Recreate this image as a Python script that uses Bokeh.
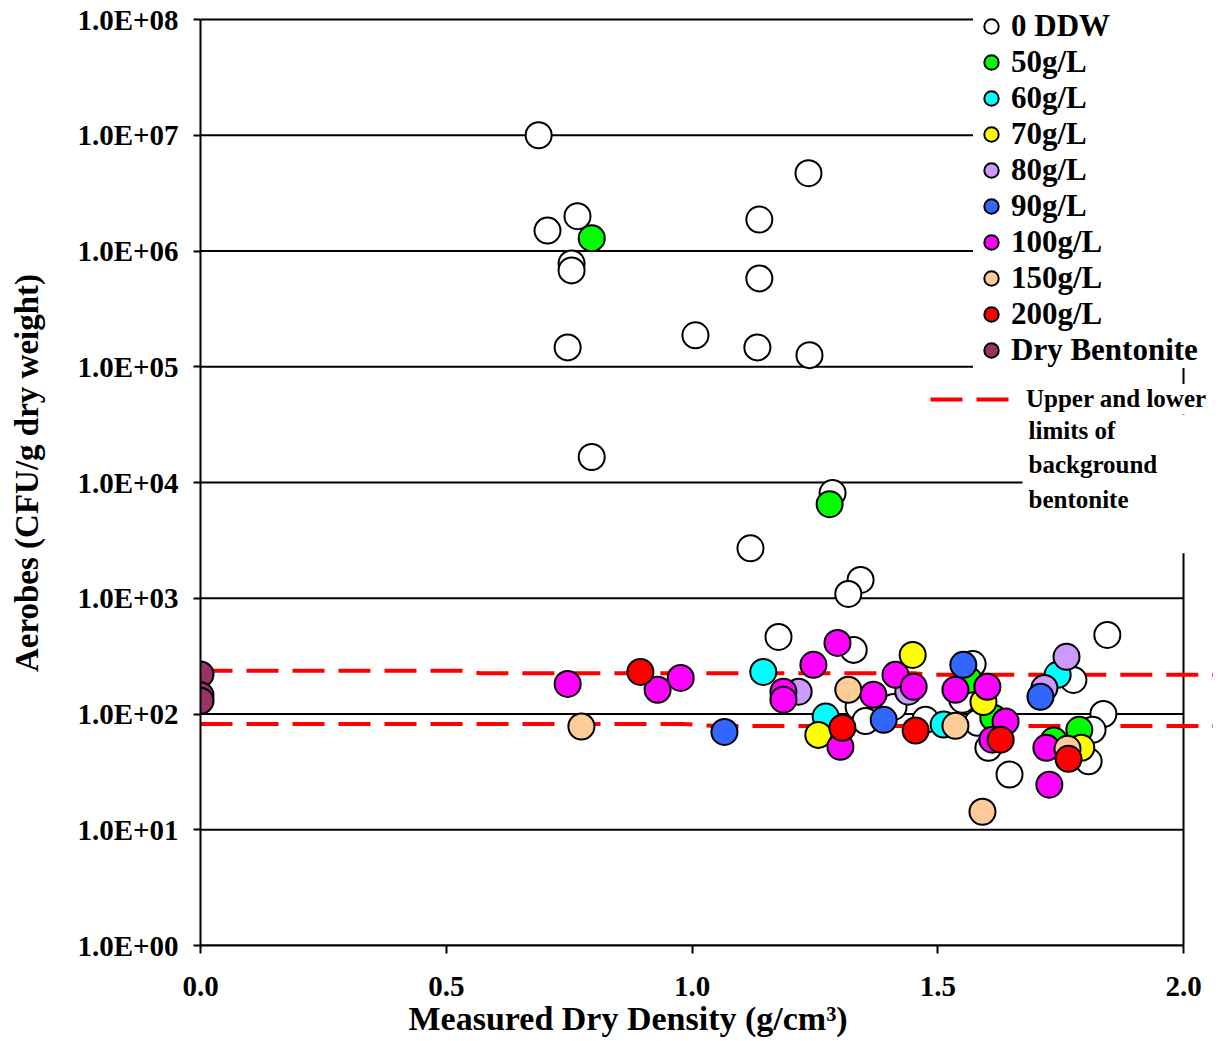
from bokeh.plotting import figure
from bokeh.models import (Legend, LegendItem, Label, FixedTicker, CustomJSTickFormatter,
                          PrintfTickFormatter, Range1d, Title)
from bokeh.embed import file_html
from bokeh.resources import INLINE
import math

FONT = "Liberation Serif"

# ---------------- data ----------------
ddw_x = [0.688, 1.237, 0.767, 0.706, 1.137, 0.755, 0.755, 1.137, 1.007, 0.747, 1.133, 1.239,
         0.796, 1.286, 1.119, 1.343, 1.318, 1.176, 1.845, 1.329, 1.776, 1.837, 1.646, 1.807,
         1.339, 1.353, 1.410, 1.475, 1.550, 1.581, 1.603, 1.815, 1.571]
ddw_y = [1.0e7, 4.7e6, 2.0e6, 1.5e6, 1.87e6, 7.8e5, 6.8e5, 5.8e5, 1.87e5, 1.47e5, 1.47e5, 1.26e5,
         1.66e4, 8.1e3, 2.7e3, 1.44e3, 1.09e3, 463, 482, 358, 197, 100, 30, 39,
         115, 87, 115, 89, 133, 84, 51, 73, 270]

g50_x = [0.796, 1.280, 1.563, 1.613, 1.736, 1.788]
g50_y = [1.29e6, 6.5e3, 197, 93, 59, 73]

g60_x = [1.145, 1.272, 1.512, 1.744]
g60_y = [231, 95, 81, 218]

g70_x = [1.257, 1.449, 1.593, 1.792]
g70_y = [66, 324, 127, 51]

g80_x = [1.217, 1.440, 1.762, 1.717]
g80_y = [156, 156, 312, 168]

g90_x = [1.066, 1.390, 1.552, 1.709]
g90_y = [70, 89, 266, 141]

g100_x = [0.747, 0.930, 0.977, 1.186, 1.186, 1.247, 1.296, 1.302, 1.369, 1.414, 1.451,
          1.536, 1.601, 1.638, 1.611, 1.721, 1.727]
g100_y = [182, 162, 205, 156, 133, 266, 411, 52, 147, 218, 172,
          162, 172, 86, 60, 51, 24.5]

g150_x = [0.775, 1.318, 1.536, 1.591, 1.764]
g150_y = [78, 162, 79, 14.3, 50]

g200_x = [0.895, 1.306, 1.455, 1.628, 1.766]
g200_y = [231, 76, 72, 60, 41]

dry_x = [0.0, 0.0, 0.0]
dry_y = [220, 145, 130]

upper_x = [0.0, 0.53, 0.57, 1.45, 1.49, 2.06]
upper_y = [236, 236, 225, 225, 218, 218]
lower_x = [0.0, 0.98, 1.05, 2.06]
lower_y = [82, 82, 78.6, 78.6]

x_ticks = [0.0, 0.5, 1.0, 1.5, 2.0]
y_ticks = [1, 10, 100, 1000, 10000, 100000, 1000000, 10000000, 100000000]

series = [
    ("0 DDW", ddw_x, ddw_y, "#FFFFFF"),
    ("50g/L", g50_x, g50_y, "#00FF00"),
    ("60g/L", g60_x, g60_y, "#00FFFF"),
    ("70g/L", g70_x, g70_y, "#FFFF00"),
    ("80g/L", g80_x, g80_y, "#CC99FF"),
    ("90g/L", g90_x, g90_y, "#3366FF"),
    ("100g/L", g100_x, g100_y, "#FF00FF"),
    ("150g/L", g150_x, g150_y, "#FFCC99"),
    ("200g/L", g200_x, g200_y, "#FF0000"),
    ("Dry Bentonite", dry_x, dry_y, "#993366"),
]

# ---------------- layout (pixels) ----------------
W, H = 1228, 1040
FRAME_L, FRAME_B = 200, 945          # frame extends to the right and top edge of canvas
AX_X1 = 1183                         # where x = 2 falls
AX_YTOP = 19                         # where y = 1e8 falls
px_per_x = (AX_X1 - FRAME_L) / (x_ticks[-1] - x_ticks[0])
px_per_dec = (FRAME_B - AX_YTOP) / math.log10(y_ticks[-1] / y_ticks[0])
x_end = x_ticks[-1] + (W - AX_X1) / px_per_x
y_end = y_ticks[-1] * 10 ** (AX_YTOP / px_per_dec)

p = figure(width=W, height=H, x_range=Range1d(x_ticks[0], x_end), y_range=Range1d(y_ticks[0], y_end),
           y_axis_type="log", output_backend="svg", toolbar_location=None,
           min_border_left=FRAME_L, min_border_right=0, min_border_top=0,
           min_border_bottom=H - FRAME_B)
p.outline_line_color = None
p.background_fill_color = "white"
p.xgrid.visible = False
p.ygrid.visible = False

p.xaxis.ticker = FixedTicker(ticks=x_ticks)
p.xaxis.formatter = PrintfTickFormatter(format="%.1f")
p.xaxis.bounds = (x_ticks[0], x_ticks[-1])
p.yaxis.ticker = FixedTicker(ticks=y_ticks)
p.yaxis.formatter = CustomJSTickFormatter(
    code="var s = tick.toExponential(1).toUpperCase(); return s.replace(/E([+-])(\\d)$/, 'E$10$2');")
p.yaxis.bounds = (y_ticks[0], y_ticks[-1])

for ax in (p.xaxis[0], p.yaxis[0]):
    ax.axis_line_color = "black"
    ax.axis_line_width = 2
    ax.major_tick_line_color = "black"
    ax.major_tick_line_width = 2
    ax.major_tick_in = 0
    ax.major_tick_out = 8
    ax.minor_tick_line_color = None
    ax.major_label_text_font = FONT
    ax.major_label_text_font_style = "bold"
    ax.major_label_text_color = "black"
    ax.axis_label_text_font = FONT
    ax.axis_label_text_font_style = "bold"
    ax.axis_label_text_color = "black"

p.yaxis.major_tick_out = 7
p.yaxis.major_label_text_font_size = "29px"
p.yaxis.major_label_standoff = 15
p.yaxis.axis_label = "Aerobes (CFU/g dry weight)"
p.yaxis.axis_label_text_font_size = "33px"
p.yaxis.axis_label_standoff = 29

p.xaxis.major_label_text_font_size = "29px"
p.xaxis.major_label_standoff = 23

# x-axis title, set slightly left of centre as in the original
xt = Title(text="Measured Dry Density (g/cm\u00b3)", align="left", offset=208, standoff=2,
           vertical_align="top", text_font=FONT, text_font_size="34px",
           text_font_style="bold", text_color="black")
p.add_layout(xt, "below")

# horizontal gridlines at the decade ticks, limited to the axis extent, and right border
p.segment(x0=[x_ticks[0]] * len(y_ticks), x1=[x_ticks[-1]] * len(y_ticks), y0=y_ticks, y1=y_ticks,
          line_color="black", line_width=2)
p.segment(x0=[x_ticks[-1]], x1=[x_ticks[-1]], y0=[y_ticks[0]], y1=[y_ticks[-1]],
          line_color="black", line_width=2)

# background limits lines
lim_up = p.line(upper_x, upper_y, line_color="#FF0000", line_width=4, line_dash="32 14")
p.line(lower_x, lower_y, line_color="#FF0000", line_width=4, line_dash="32 14")

renderers = []
for name, xs, ys, col in series:
    r = p.scatter(xs, ys, size=26, fill_color=col, line_color="black", line_width=2)
    renderers.append((name, r))

leg = Legend(items=[LegendItem(label=n, renderers=[r]) for n, r in renderers],
             location=(973 - FRAME_L, FRAME_B - 368), glyph_width=36, glyph_height=36, spacing=0,
             label_standoff=2, padding=4, margin=0, label_height=36,
             label_text_font=FONT, label_text_font_size="31px", label_text_font_style="bold",
             label_text_color="black",
             border_line_color=None, background_fill_color="white", background_fill_alpha=1.0)
p.add_layout(leg)

leg2 = Legend(items=[LegendItem(label="Upper and lower", renderers=[lim_up])],
              location=(930 - FRAME_L, FRAME_B - 414), glyph_width=80, glyph_height=30,
              label_standoff=16, padding=2, margin=0,
              label_text_font=FONT, label_text_font_size="25px", label_text_font_style="bold",
              label_text_color="black",
              border_line_color=None, background_fill_color="white", background_fill_alpha=1.0)
p.add_layout(leg2)

lab = Label(x=1022 - FRAME_L, y=FRAME_B - 414, x_units="screen", y_units="screen",
            text="limits of\nbackground\nbentonite", text_align="left", text_baseline="top",
            text_font=FONT, text_font_size="25px", text_font_style="bold", text_color="black",
            text_line_height=1.29, background_fill_color="white", background_fill_alpha=1.0,
            padding=dict(left=6, right=60, top=2, bottom=40))
p.add_layout(lab)

open("out.html", "w").write(file_html(p, INLINE))
